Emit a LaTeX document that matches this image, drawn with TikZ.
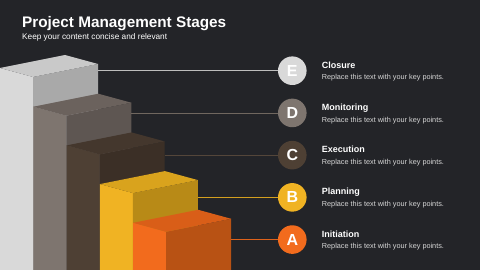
\documentclass[tikz,border=0pt]{standalone}
\usepackage{fontspec}
\setmainfont{Liberation Sans}
\usetikzlibrary{positioning}
\definecolor{bg}{HTML}{232428}
\definecolor{bodytext}{HTML}{D6D6D6}
% front / side / top / line colours of each step
\definecolor{frontE}{HTML}{D9D9D9}\definecolor{sideE}{HTML}{A9A9A9}\definecolor{topE}{HTML}{C9C9C9}\definecolor{lineE}{HTML}{BDBDBD}
\definecolor{frontD}{HTML}{7E756F}\definecolor{sideD}{HTML}{5E5652}\definecolor{topD}{HTML}{6B625D}\definecolor{lineD}{HTML}{70675F}
\definecolor{frontC}{HTML}{4E4034}\definecolor{sideC}{HTML}{3B2F26}\definecolor{topC}{HTML}{44372D}\definecolor{lineC}{HTML}{54463A}
\definecolor{frontB}{HTML}{F0B323}\definecolor{sideB}{HTML}{B88A17}\definecolor{topB}{HTML}{D9A31D}\definecolor{lineB}{HTML}{D39F1F}
\definecolor{frontA}{HTML}{F26B1D}\definecolor{sideA}{HTML}{B85214}\definecolor{topA}{HTML}{D95E18}\definecolor{lineA}{HTML}{DD621B}
\tikzset{
  stagecirc/.style={circle,minimum size=28.6pt,inner sep=0pt,text=white,font=\fontsize{16}{16}\selectfont\bfseries},
  stagetitle/.style={anchor=base west,inner sep=0pt,text=white,font=\fontsize{9}{9}\selectfont\bfseries},
  stagetext/.style={anchor=base west,inner sep=0pt,text=bodytext,font=\fontsize{7.3}{7.3}\selectfont},
}
\begin{document}
\begin{tikzpicture}[x=1pt,y=-1pt]
\fill[bg] (0,0) rectangle (480,270);
\useasboundingbox (0,0) rectangle (480,270);
\node[anchor=base west,inner sep=0pt,text=white,font=\fontsize{15.3}{15.3}\selectfont\bfseries] (title) at (22,27.3) {Project Management Stages};
\node[anchor=base west,inner sep=0pt,text=white,font=\fontsize{8.25}{8.25}\selectfont] (subtitle) at (22,40) {Keep your content concise and relevant};
\foreach \i/\l/\nm in {0/E/Closure,1/D/Monitoring,2/C/Execution,3/B/Planning,4/A/Initiation}{
  \pgfmathsetmacro{\bx}{33.3*\i}
  \pgfmathsetmacro{\by}{68+38.7*\i}
  \pgfmathsetmacro{\cy}{70.7+42.22*\i}
  % the block
  \fill[front\l] (\bx,\by) -- ++(33,9) -- (\bx+33,270) -- (\bx,270) -- cycle;
  \fill[side\l] (\bx+33,\by+9) -- ++(65,-13) -- (\bx+98,270) -- (\bx+33,270) -- cycle;
  \fill[top\l] (\bx,\by) -- ++(33,9) -- ++(65,-13) -- ++(-33,-9) -- cycle;
  % marker and texts
  \coordinate (r\l) at (\bx+98,\cy);
  \node[stagecirc,fill=front\l] (c\l) at (292.3,\cy) {\l};
  \draw[line\l,line width=0.8pt] (r\l) -- (c\l);
  \node[stagetitle] (t\l) at (321.7,\cy-2.4) {\nm};
  \node[stagetext] (d\l) at (321.7,\cy+9.3) {Replace this text with your key points.};
}
\end{tikzpicture}
\end{document}
